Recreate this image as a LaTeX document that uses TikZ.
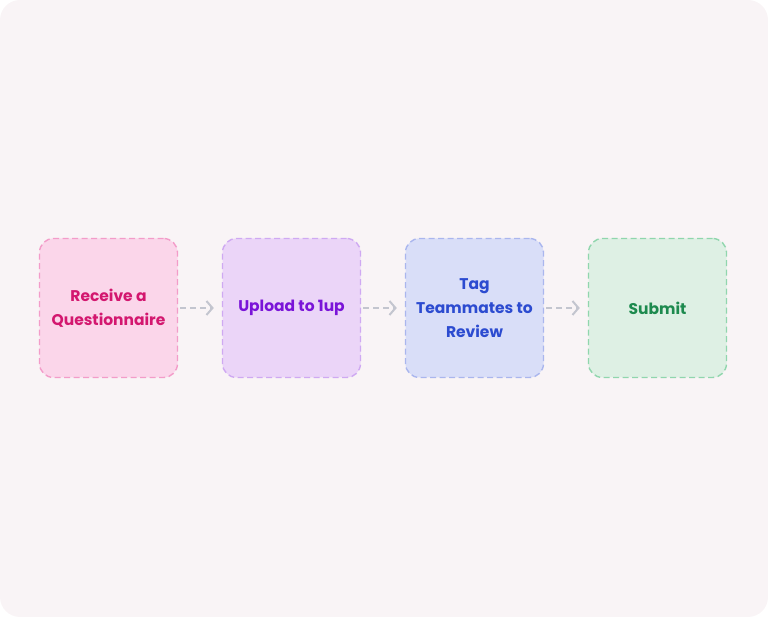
\documentclass[tikz,border=0pt]{standalone}
\usepackage{fontspec}
\setmainfont{Poppins}
\usetikzlibrary{positioning,arrows.meta}
\definecolor{bgpaper}{HTML}{F9F4F6}
\definecolor{pinktext}{HTML}{D3176F}
\definecolor{pinkfill}{HTML}{FBD6EA}
\definecolor{pinkline}{HTML}{F39CC9}
\definecolor{purpletext}{HTML}{7A14D8}
\definecolor{purplefill}{HTML}{EBD5F8}
\definecolor{purpleline}{HTML}{CFA9F2}
\definecolor{bluetext}{HTML}{2C4BD0}
\definecolor{bluefill}{HTML}{D9DEF8}
\definecolor{blueline}{HTML}{AAB6EE}
\definecolor{greentext}{HTML}{1D8A4E}
\definecolor{greenfill}{HTML}{DEF0E4}
\definecolor{greenline}{HTML}{90D6AD}
\definecolor{arrowgrey}{HTML}{C3C5CF}
\tikzset{
  stepbox/.style={rounded corners=14pt, line width=1.4pt, dash pattern=on 6pt off 3.5pt,
    minimum width=138pt, minimum height=139pt, align=center, font=\fontsize{15.5}{24}\selectfont\bfseries},
  flow/.style={arrowgrey, line width=2pt, dash pattern=on 6pt off 4pt,
    -{Straight Barb[length=6pt,width=14pt,line width=2pt]}}
}
\begin{document}
\begin{tikzpicture}[x=1pt,y=1pt]
	\useasboundingbox (0,0) rectangle (768,617);
	\fill[bgpaper, rounded corners=20pt] (0,0) rectangle (768,617);
	\node[stepbox, draw=pinkline, fill=pinkfill, text=pinktext] (receive) at (108.5,309) {Receive a\\Questionnaire};
	\node[stepbox, draw=purpleline, fill=purplefill, text=purpletext, right=43.6pt of receive] (upload) {Upload to 1up};
	\node[stepbox, draw=blueline, fill=bluefill, text=bluetext, right=43.6pt of upload] (tag) {Tag\\Teammates to\\Review};
	\node[stepbox, draw=greenline, fill=greenfill, text=greentext, right=43.6pt of tag] (submit) {Submit};
	\draw[flow] ([xshift=2pt]receive.east) -- ([xshift=-8pt]upload.west);
	\draw[flow] ([xshift=2pt]upload.east) -- ([xshift=-8pt]tag.west);
	\draw[flow] ([xshift=2pt]tag.east) -- ([xshift=-8pt]submit.west);
\end{tikzpicture}
\end{document}
